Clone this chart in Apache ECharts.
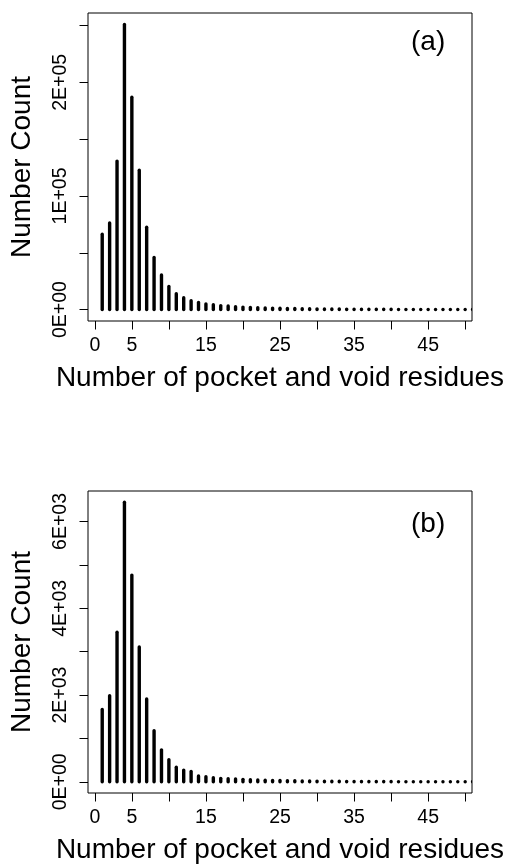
<!DOCTYPE html>
<html>
<head>
<meta charset="utf-8">
<script src="https://cdn.jsdelivr.net/npm/echarts@6/dist/echarts.min.js"></script>
<style>
  html, body { margin: 0; padding: 0; background: #fff; }
  #main { width: 508px; height: 865px; }
</style>
</head>
<body>
<div id="main"></div>
<script>
// residues per pocket/void (x), shared by both panels
var residues = [];
for (var i = 1; i <= 51; i++) residues.push(i);

// panel (a) counts
var countsA = [
  66300, 76300, 130700, 251000, 186900, 122600, 72500, 45900, 30400, 20300,
  13900, 10500, 7800, 6300, 5000, 4200, 3500, 3100, 2600, 2200,
  1900, 1700, 1450, 1300, 1150, 1000, 900, 820, 730, 660,
  590, 530, 480, 430, 390, 350, 320, 290, 260, 240,
  215, 195, 175, 160, 145, 130, 120, 110, 100, 90, 85
];

// panel (b) counts
var countsB = [
  1668, 1985, 3447, 6445, 4765, 3106, 1911, 1178, 737, 511,
  338, 270, 238, 136, 118, 95, 80, 72, 64, 57,
  46, 41, 36, 32, 29, 26, 24, 21, 19, 17,
  15, 14, 12, 11, 10, 9, 8, 7, 7, 6,
  5, 5, 4, 4, 3, 3, 3, 2, 2, 2, 2
];

var xTicks = [0, 5, 10, 15, 20, 25, 30, 35, 40, 45, 50];
var xLabelVals = [0, 5, 15, 25, 35, 45];

var yTicksA = [0, 50000, 100000, 150000, 200000, 250000];
var yLabelValsA = [0, 100000, 200000];
var yLabelsA = ["0E+00", "1E+05", "2E+05"];

var yTicksB = [0, 1000, 2000, 3000, 4000, 5000, 6000];
var yLabelValsB = [0, 2000, 4000, 6000];
var yLabelsB = ["0E+00", "2E+03", "4E+03", "6E+03"];

var FONT = "Liberation Sans";

function pairs(ys) {
  return residues.map(function (x, i) { return [x, ys[i]]; });
}

function renderStem(params, api) {
  var top = api.coord([api.value(0), api.value(1)]);
  var base = api.coord([api.value(0), 0]);
  return {
    type: "line",
    shape: { x1: base[0], y1: base[1], x2: top[0], y2: top[1] },
    style: { stroke: "#000", lineWidth: 3.4, lineCap: "round" }
  };
}

function xAxisFor(idx) {
  return {
    gridIndex: idx,
    type: "value",
    min: -0.92,
    max: 50.92,
    name: "Number of pocket and void residues",
    nameLocation: "middle",
    nameGap: 43,
    nameTextStyle: { fontFamily: FONT, fontSize: 28, color: "#000" },
    axisLine: { show: false, onZero: false },
    splitLine: { show: false },
    axisTick: { show: true, customValues: xTicks, length: 8.5, lineStyle: { color: "#000", width: 1 } },
    axisLabel: { customValues: xLabelVals, margin: 15, fontFamily: FONT, fontSize: 19.5, color: "#000" }
  };
}

function yAxisFor(idx, ys, ticks, labelVals, labels) {
  var peak = Math.max.apply(null, ys);
  return {
    gridIndex: idx,
    type: "value",
    min: -0.04 * peak,
    max: 1.04 * peak,
    name: "Number Count",
    nameLocation: "middle",
    nameGap: 52,
    nameTextStyle: { fontFamily: FONT, fontSize: 28, color: "#000" },
    axisLine: { show: false, onZero: false },
    splitLine: { show: false },
    axisTick: { show: true, customValues: ticks, length: 8.5, lineStyle: { color: "#000", width: 1 } },
    axisLabel: {
      customValues: labelVals,
      rotate: 90,
      margin: 17,
      fontFamily: FONT,
      fontSize: 19.5,
      color: "#000",
      formatter: function (v) {
        var k = labelVals.indexOf(v);
        return k >= 0 ? labels[k] : "";
      }
    }
  };
}

var chart = echarts.init(document.getElementById("main"));
chart.setOption({
  backgroundColor: "#fff",
  animation: false,
  title: [
    { text: "(a)", left: 411, top: 28, padding: 0, textStyle: { fontFamily: FONT, fontSize: 28, fontWeight: "normal", color: "#000" } },
    { text: "(b)", left: 411, top: 510, padding: 0, textStyle: { fontFamily: FONT, fontSize: 28, fontWeight: "normal", color: "#000" } }
  ],
  grid: [
    { left: 88, top: 13, width: 384, height: 308, show: true, borderColor: "#000", borderWidth: 1, backgroundColor: "transparent" },
    { left: 88, top: 491, width: 384, height: 307, show: true, borderColor: "#000", borderWidth: 1, backgroundColor: "transparent" }
  ],
  xAxis: [xAxisFor(0), xAxisFor(1)],
  yAxis: [
    yAxisFor(0, countsA, yTicksA, yLabelValsA, yLabelsA),
    yAxisFor(1, countsB, yTicksB, yLabelValsB, yLabelsB)
  ],
  series: [
    { type: "custom", xAxisIndex: 0, yAxisIndex: 0, clip: true, renderItem: renderStem, data: pairs(countsA) },
    { type: "custom", xAxisIndex: 1, yAxisIndex: 1, clip: true, renderItem: renderStem, data: pairs(countsB) }
  ]
});
</script>
</body>
</html>
